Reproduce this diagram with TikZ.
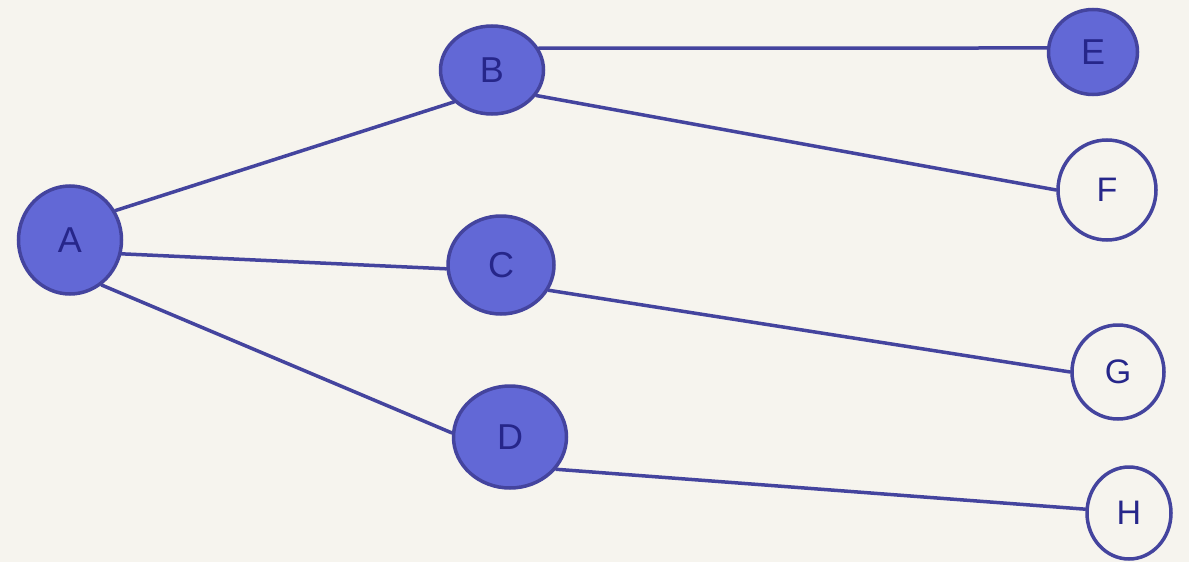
\documentclass[tikz,border=0pt]{standalone}
\usepackage{fontspec}
\setmainfont{Liberation Sans}
\usetikzlibrary{shapes.geometric}
\definecolor{paper}{RGB}{246,244,238}
\definecolor{ink}{RGB}{68,68,158}
\definecolor{fillblue}{RGB}{98,104,214}
\definecolor{letter}{RGB}{38,38,138}
\tikzset{
  vfull/.style={ellipse, draw=ink, line width=3.5pt, fill=fillblue, text=letter, inner sep=0pt, font=\fontsize{36}{40}\selectfont},
  vopen/.style={ellipse, draw=ink, line width=3.5pt, fill=paper, text=letter, inner sep=0pt, font=\fontsize{34}{38}\selectfont},
  edge/.style={draw=ink, line width=3.5pt, line cap=round}
}
\begin{document}
\begin{tikzpicture}[x=1pt,y=-1pt]
\fill[paper] (0,0) rectangle (1189,562);
\useasboundingbox (0,0) rectangle (1189,562);
\node[vfull, minimum width=103pt, minimum height=108pt] (A) at (70,240) {A};
\node[vfull, minimum width=103pt, minimum height=88pt] (B) at (492,70) {B};
\node[vfull, minimum width=106pt, minimum height=98pt] (C) at (501,265) {C};
\node[vfull, minimum width=113pt, minimum height=102pt] (D) at (510,437) {D};
\node[vfull, minimum width=89pt, minimum height=85pt] (E) at (1093,52) {E};
\node[vopen, minimum width=98pt, minimum height=100pt] (F) at (1107,190) {F};
\node[vopen, minimum width=92pt, minimum height=94pt] (G) at (1118,372) {G};
\node[vopen, minimum width=84pt, minimum height=92pt] (H) at (1129,513) {H};
\draw[edge] (A.33) -- (B.220);
\draw[edge] (A.-15) -- (C.184);
\draw[edge] (A.-55) -- (D.176);
\draw[edge] (B.25) -- (E.175);
\draw[edge] (B.-30) -- (F.180);
\draw[edge] (C.-28) -- (G.180);
\draw[edge] (D.-35) -- (H.175);
\end{tikzpicture}
\end{document}
